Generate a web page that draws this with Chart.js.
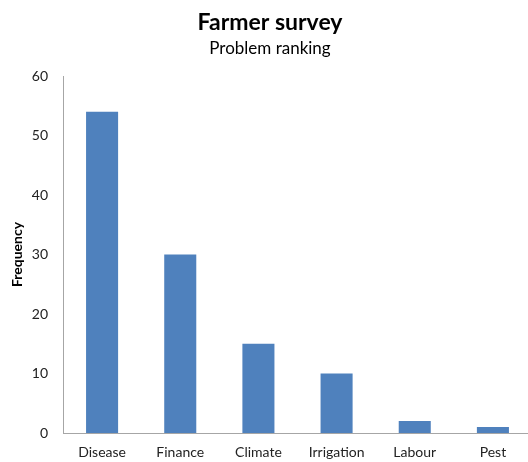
<!DOCTYPE html>
<html>
<head>
<meta charset="utf-8">
<script src="https://cdn.jsdelivr.net/npm/chart.js@4"></script>
<style>
  html, body { margin: 0; padding: 0; background: #fff; overflow: hidden; }
  #wrap { width: 528px; height: 462px; overflow: hidden; }
</style>
</head>
<body>
<div id="wrap"><canvas id="c" width="536" height="462"></canvas></div>
<script>
const categories = ['Disease', 'Finance', 'Climate', 'Irrigation', 'Labour', 'Pest'];
const frequency = [54, 30, 15, 10, 2, 1];
const yTicks = [0, 10, 20, 30, 40, 50, 60];

const FONT = "Lato, 'Open Sans', sans-serif";

new Chart(document.getElementById('c'), {
  type: 'bar',
  data: {
    labels: categories,
    datasets: [{
      label: 'Frequency',
      data: frequency,
      backgroundColor: '#4F81BD',
      borderWidth: 0,
      barPercentage: 0.41,
      categoryPercentage: 1.0
    }]
  },
  options: {
    responsive: false,
    animation: false,
    layout: { padding: { top: 4, right: 4, bottom: 0, left: 8 } },
    plugins: {
      legend: { display: false },
      tooltip: { enabled: false },
      title: {
        display: true,
        text: 'Farmer survey',
        color: '#000',
        font: { family: FONT, size: 23, weight: 'bold' },
        padding: { top: 5, bottom: 2 }
      },
      subtitle: {
        display: true,
        text: 'Problem ranking',
        color: '#000',
        font: { family: FONT, size: 17 },
        padding: { top: 0, bottom: 17 }
      }
    },
    scales: {
      x: {
        grid: { display: false, drawTicks: false },
        border: { display: true, color: '#A6A6A6', width: 1 },
        ticks: { color: '#222', font: { family: FONT, size: 14 }, padding: 11 },
        afterFit: (scale) => { scale.height = 29; }
      },
      y: {
        min: 0,
        max: 60,
        afterBuildTicks: (axis) => { axis.ticks = yTicks.map(v => ({ value: v })); },
        afterFit: (scale) => { scale.width = 55; },
        grid: { display: false, drawTicks: false },
        border: { display: true, color: '#A6A6A6', width: 1 },
        ticks: { color: '#222', font: { family: FONT, size: 14 }, padding: 15 },
        title: {
          display: true,
          text: 'Frequency',
          color: '#000',
          font: { family: FONT, size: 14, weight: 'bold' },
          padding: { top: 1, bottom: 8 }
        }
      }
    }
  }
});
</script>
</body>
</html>
